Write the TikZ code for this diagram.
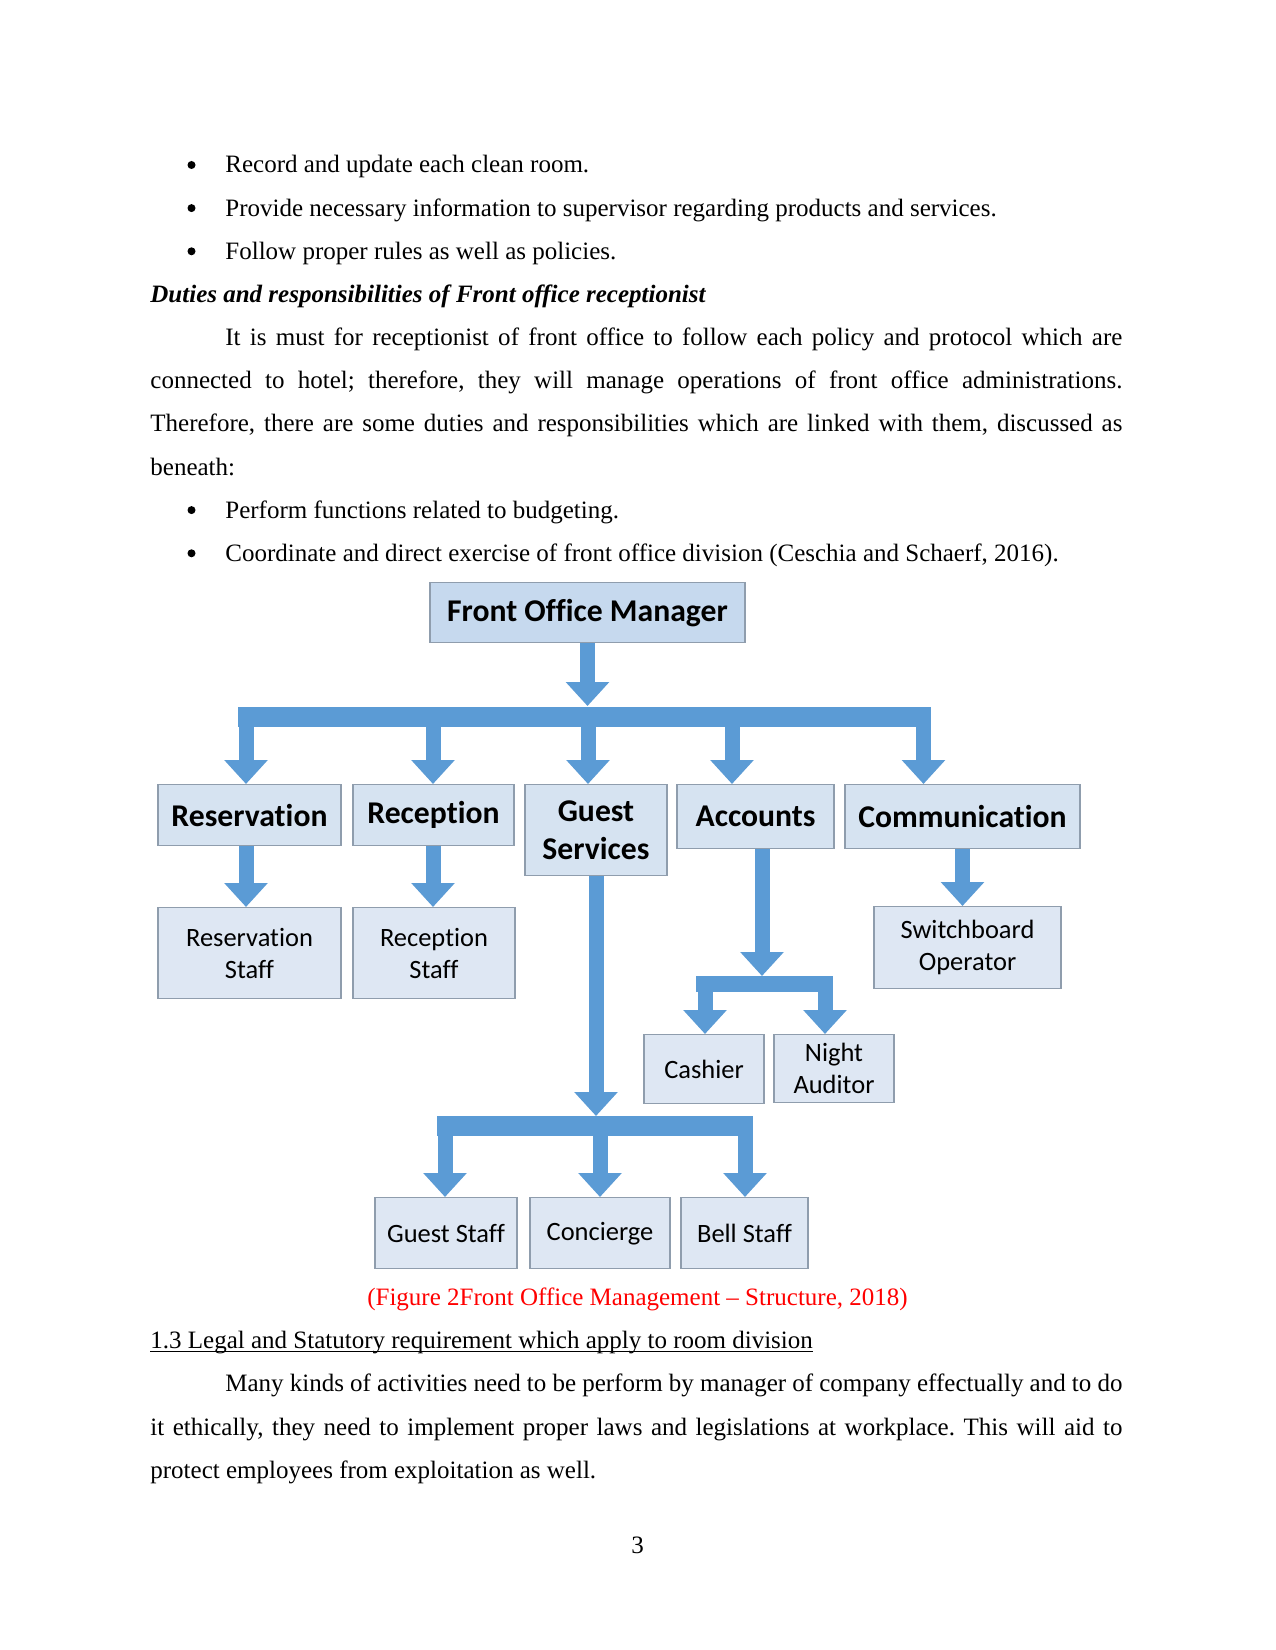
\documentclass[tikz,border=0pt]{standalone}
\usepackage{fontspec}
\setmainfont{Liberation Serif}
\newfontfamily\calibri[RawFeature={-liga;-clig;-calt;-dlig}]{Carlito}
\usetikzlibrary{arrows.meta}
\newlength{\pxu}\setlength{\pxu}{0.48pt}
\definecolor{flowblue}{HTML}{5B9BD5}
\definecolor{topfill}{HTML}{C6D9EE}
\definecolor{headfill}{HTML}{D6E3F1}
\definecolor{stafffill}{HTML}{DEE7F3}
\definecolor{boxline}{HTML}{8F9DAD}
\frenchspacing
\tikzset{
  body/.style={anchor=base west,inner sep=0pt,font=\fontsize{12}{14}\selectfont},
  bul/.style={circle,fill=black,inner sep=0pt,minimum size=8\pxu},
  orgbox/.style={draw=boxline,line width=0.7pt,anchor=north,inner sep=0pt,align=center},
  topbox/.style={orgbox,fill=topfill,font=\calibri\bfseries\fontsize{15.2}{18}\selectfont},
  headbox/.style={orgbox,fill=headfill,font=\calibri\bfseries\fontsize{15.2}{18.2}\selectfont},
  staffbox/.style={orgbox,fill=stafffill,font=\calibri\fontsize{12.7}{15.4}\selectfont},
  flow/.style={draw=flowblue,line width=7.2pt,-{Triangle[width=20.2pt,length=11.5pt]}},
  bar/.style={draw=flowblue,line width=9.6pt},
}
\begin{document}
\begin{tikzpicture}[x=0.48pt,y=-0.48pt]
  \fill[white] (0,0) rectangle (1275,1650);
  \useasboundingbox (0,0) rectangle (1275,1650);
  % text above the chart
  \node[bul] (d1) at (191.5,165) {};
  \node[body] (t1) at (225,173) {Record and update each clean room.};
  \node[bul] (d2) at (191.5,208.1) {};
  \node[body] (t2) at (225,216.1) {Provide necessary information to supervisor regarding products and services.};
  \node[bul] (d3) at (191.5,251.3) {};
  \node[body] (t3) at (225,259.3) {Follow proper rules as well as policies.};
  \node[body,font=\fontsize{12}{14}\selectfont\bfseries\itshape] (hd) at (150,302.4)
  {Duties and responsibilities of Front office receptionist};
  \node[body] (p1) at (225,345.6) {\makebox[897\pxu][s]{It is must for receptionist of front office to follow each policy and protocol which are}};
  \node[body] (p2) at (150,388.7) {\makebox[972\pxu][s]{connected to hotel; therefore, they will manage operations of front office administrations.}};
  \node[body] (p3) at (150,431.8) {\makebox[972\pxu][s]{Therefore, there are some duties and responsibilities which are linked with them, discussed as}};
  \node[body] (p4) at (150,475) {beneath:};
  \node[bul] (d4) at (191.5,510.1) {};
  \node[body] (t4) at (225,518.1) {Perform functions related to budgeting.};
  \node[bul] (d5) at (191.5,553.3) {};
  \node[body] (t5) at (225,561.3) {Coordinate and direct exercise of front office division (Ceschia and Schaerf, 2016).};
  % chart boxes
  \node[topbox,minimum width=315\pxu,minimum height=60\pxu] (fom) at (587.5,582) {Front Office Manager};
  \node[headbox,minimum width=183\pxu,minimum height=61\pxu] (res) at (249.5,784) {Reservation};
  \node[headbox,minimum width=161\pxu,minimum height=61\pxu] (rec) at (433.5,784) {Reception};
  \node[headbox,minimum width=142\pxu,minimum height=91\pxu] (gs) at (596,784) {Guest\\Services};
  \node[headbox,minimum width=157\pxu,minimum height=64\pxu] (acc) at (755.5,784) {Accounts};
  \node[headbox,minimum width=235\pxu,minimum height=64\pxu] (com) at (962.5,784) {Communication};
  \node[staffbox,minimum width=183\pxu,minimum height=91\pxu] (resst) at (249.5,907) {Reservation\\Staff};
  \node[staffbox,minimum width=162\pxu,minimum height=91\pxu] (recst) at (434,907) {Reception\\Staff};
  \node[staffbox,minimum width=187\pxu,minimum height=82\pxu] (sw) at (967.5,906) {Switchboard\\Operator};
  \node[staffbox,minimum width=120\pxu,minimum height=69\pxu] (cash) at (704,1034) {Cashier};
  \node[staffbox,minimum width=120\pxu,minimum height=68\pxu] (night) at (834,1034) {Night\\Auditor};
  \node[staffbox,minimum width=142\pxu,minimum height=71\pxu] (gstaff) at (446,1197) {Guest Staff};
  \node[staffbox,minimum width=140\pxu,minimum height=71\pxu] (conc) at (600,1197) {Concierge};
  \node[staffbox,minimum width=127\pxu,minimum height=71\pxu] (bell) at (744.5,1197) {Bell Staff};
  % connectors
  \coordinate (bartop) at (587.5,706);
  \coordinate (j1) at (246,716.5);
  \coordinate (j2) at (433,716.5);
  \coordinate (j3) at (588,716.5);
  \coordinate (j4) at (732,716.5);
  \coordinate (j5) at (923.5,716.5);
  \draw[bar] (238,716.5) -- (931,716.5);
  \draw[flow] (fom.south) -- (bartop);
  \foreach \jn/\nd in {j1/res,j2/rec,j3/gs,j4/acc,j5/com}
    \draw[flow] (\jn) -- (\jn |- \nd.north);
  \draw[flow] (j1 |- res.south) -- (j1 |- resst.north);
  \draw[flow] (j2 |- rec.south) -- (j2 |- recst.north);
  \draw[flow] (com.south) -- (com.south |- sw.north);
  \coordinate (accjoin) at (762,976);
  \coordinate (k1) at (705,984);
  \coordinate (k2) at (825,984);
  \draw[bar,line width=7.7pt] (696,984) -- (833,984);
  \draw[flow] (accjoin |- acc.south) -- (accjoin);
  \draw[flow] (k1) -- (k1 |- cash.north);
  \draw[flow] (k2) -- (k2 |- night.north);
  \coordinate (gsjoin) at (596,1116);
  \coordinate (m1) at (445,1126);
  \coordinate (m2) at (600,1126);
  \coordinate (m3) at (745,1126);
  \draw[bar] (437,1126) -- (753,1126);
  \draw[flow] (gs.south) -- (gsjoin);
  \draw[flow] (m1) -- (m1 |- gstaff.north);
  \draw[flow] (m2) -- (m2 |- conc.north);
  \draw[flow] (m3) -- (m3 |- bell.north);
  % text below the chart
  \node[anchor=base,inner sep=0pt,text=red,font=\fontsize{12}{14}\selectfont] (cap) at (637.5,1305)
  {(Figure 2Front Office Management -- Structure, 2018)};
  \node[body] (sec) at (150,1348) {1.3 Legal and Statutory requirement which apply to room division};
  \draw[line width=0.6pt] ([yshift=-1.5pt]sec.base west) -- ([yshift=-1.5pt]sec.base east);
  \node[body] (q1) at (225,1391) {\makebox[897\pxu][s]{Many kinds of activities need to be perform by manager of company effectually and to do}};
  \node[body] (q2) at (150,1435) {\makebox[972\pxu][s]{it ethically, they need to implement proper laws and legislations at workplace. This will aid to}};
  \node[body] (q3) at (150,1478) {protect employees from exploitation as well.};
  \node[anchor=base,inner sep=0pt,font=\fontsize{12}{14}\selectfont] (pg) at (637.5,1553) {3};
\end{tikzpicture}
\end{document}
